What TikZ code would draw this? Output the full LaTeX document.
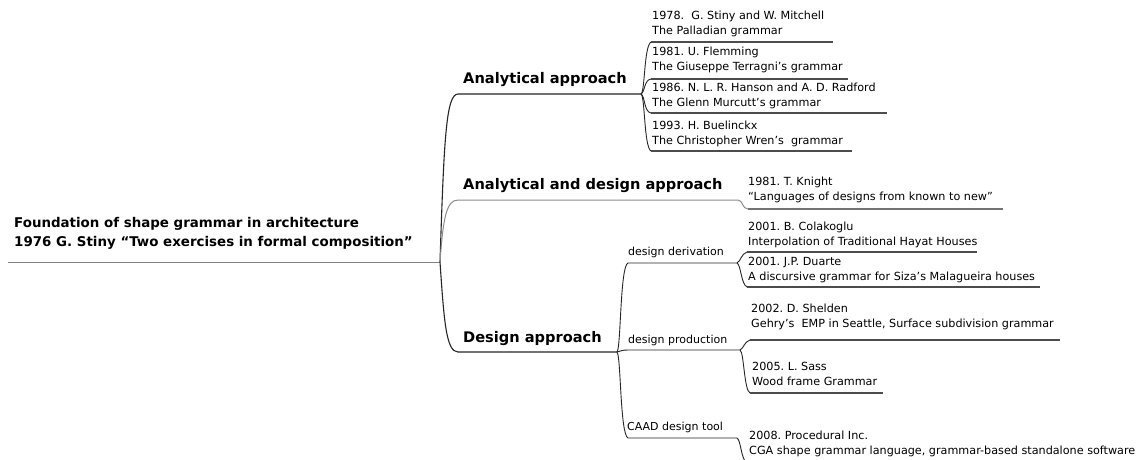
\documentclass[tikz,border=0pt]{standalone}
\usepackage{fontspec}
\setmainfont{DejaVu Sans}
\frenchspacing
\begin{document}
\begin{tikzpicture}[x=1pt,y=-1pt,
  rootnode/.style={font=\bfseries\fontsize{13.4}{19}\selectfont, anchor=south west, inner sep=0, align=left},
  branchnode/.style={font=\bfseries\fontsize{14.6}{17}\selectfont, anchor=base west, inner sep=0},
  subnode/.style={font=\fontsize{11}{13}\selectfont, anchor=base west, inner sep=0},
  leafnode/.style={font=\fontsize{11.2}{15}\selectfont, anchor=south west, inner sep=0, align=left},
  mainline/.style={line width=1.1pt, draw=black!85},
  midline/.style={line width=1pt, draw=black!45},
  rootline/.style={line width=1pt, draw=black!50},
  bracket/.style={line width=0.9pt, draw=black!85},
  leafline/.style={line width=1.5pt, draw=black!70},
]
\clip (0,0) rectangle (1145,459);
\fill[white] (0,0) rectangle (1145,459);

% ---------- texts ----------
\node[rootnode] (root) at (14,252.7) {Foundation of shape grammar in architecture\\1976 G. Stiny “Two exercises in formal composition”\strut};
\node[branchnode] (ana) at (463,83) {Analytical approach};
\node[branchnode] (anades) at (463,189) {Analytical and design approach};
\node[branchnode] (des) at (463,342) {Design approach};
\node[subnode] (deriv) at (628,255) {design derivation};
\node[subnode] (prod) at (628,343) {design production};
\node[subnode] (caad) at (627,430) {CAAD design tool};

\node[leafnode] (l1) at (652,39.5) {1978.\ \ G. Stiny and W. Mitchell\\The Palladian grammar\strut};
\node[leafnode] (l2) at (652,75.5) {1981. U. Flemming\\The Giuseppe Terragni’s grammar\strut};
\node[leafnode] (l3) at (652,111.5) {1986. N. L. R. Hanson and A. D. Radford\\The Glenn Murcutt’s grammar\strut};
\node[leafnode] (l4) at (652,149.5) {1993. H. Buelinckx\\The Christopher Wren’s\ \ grammar\strut};
\node[leafnode] (l5) at (748,205.5) {1981. T. Knight\\“Languages of designs from known to new”\strut};
\node[leafnode] (l6) at (748,250.5) {2001. B. Colakoglu\\Interpolation of Traditional Hayat Houses\strut};
\node[leafnode] (l7) at (748,285.5) {2001. J.P. Duarte\\A discursive grammar for Siza’s Malagueira houses\strut};
\node[leafnode] (l8) at (751,332.5) {2002. D. Shelden\\Gehry’s\ \ EMP in Seattle, Surface subdivision grammar\strut};
\node[leafnode] (l9) at (752,390.5) {2005. L. Sass\\Wood frame Grammar\strut};
\node[leafnode] (l10) at (749,459.5) {2008. Procedural Inc.\\CGA shape grammar language, grammar-based standalone software\strut};

% ---------- junction coordinates ----------
\coordinate (r0) at (8,262);
\coordinate (J) at (440,262);
\coordinate (A0) at (458,94);  \coordinate (A1) at (641,94);
\coordinate (M0) at (458,200); \coordinate (M1) at (738,200);
\coordinate (M2) at (748,209); \coordinate (M3) at (1003,209);
\coordinate (D0) at (458,352); \coordinate (D1) at (617,352);

\coordinate (a1s) at (651,42);  \coordinate (a1e) at (833,42);
\coordinate (a2s) at (651,79);  \coordinate (a2e) at (848,79);
\coordinate (a3s) at (651,113); \coordinate (a3e) at (887,113);
\coordinate (a4s) at (651,151); \coordinate (a4e) at (852,151);

\coordinate (s1s) at (628,263); \coordinate (s1e) at (737,263);
\coordinate (s2s) at (628,350); \coordinate (s2e) at (740,350);
\coordinate (s3s) at (628,438); \coordinate (s3e) at (737,438);

\coordinate (d1s) at (747,252); \coordinate (d1e) at (977,252);
\coordinate (d2s) at (747,287); \coordinate (d2e) at (1040,287);
\coordinate (p1s) at (750,340); \coordinate (p1e) at (1060,340);
\coordinate (p2s) at (750,393); \coordinate (p2e) at (883,393);
\coordinate (c1s) at (747,463); \coordinate (c1e) at (1140,463);

% ---------- connectors ----------
\draw[rootline] (r0) -- (J);
\draw[mainline] (J) .. controls (444,140) and (446,94) .. (A0) -- (A1);
\draw[midline] (J) .. controls (443,220) and (446,200) .. (M0) -- (M1)
   .. controls (743,200) and (742,209) .. (M2);
\draw[leafline, draw=black!55] (M2) -- (M3);
\draw[mainline] (J) .. controls (444,320) and (446,352) .. (D0) -- (D1);

\draw[bracket] (A1) .. controls (645,92) and (644,46) .. (a1s);
\draw[bracket] (A1) .. controls (645,92) and (644,80) .. (a2s);
\draw[bracket] (A1) .. controls (645,96) and (644,112) .. (a3s);
\draw[bracket] (A1) .. controls (645,96) and (644,147) .. (a4s);
\draw[leafline] (a1s) -- (a1e);
\draw[leafline] (a2s) -- (a2e);
\draw[leafline] (a3s) -- (a3e);
\draw[leafline] (a4s) -- (a4e);

\draw[bracket] (D1) .. controls (621,348) and (620,266) .. (s1s) -- (s1e);
\draw[bracket] (D1) .. controls (621,351) and (622,350) .. (s2s) -- (s2e);
\draw[bracket] (D1) .. controls (621,356) and (620,434) .. (s3s) -- (s3e);

\draw[bracket] (s1e) .. controls (741,261) and (741,254) .. (d1s);
\draw[bracket] (s1e) .. controls (741,265) and (741,284) .. (d2s);
\draw[bracket] (s2e) .. controls (744,348) and (744,342) .. (p1s);
\draw[bracket] (s2e) .. controls (744,352) and (744,390) .. (p2s);
\draw[bracket] (s3e) .. controls (741,440) and (741,460) .. (c1s);
\draw[leafline] (d1s) -- (d1e);
\draw[leafline] (d2s) -- (d2e);
\draw[leafline] (p1s) -- (p1e);
\draw[leafline] (p2s) -- (p2e);
\draw[leafline] (c1s) -- (c1e);
\end{tikzpicture}
\end{document}
